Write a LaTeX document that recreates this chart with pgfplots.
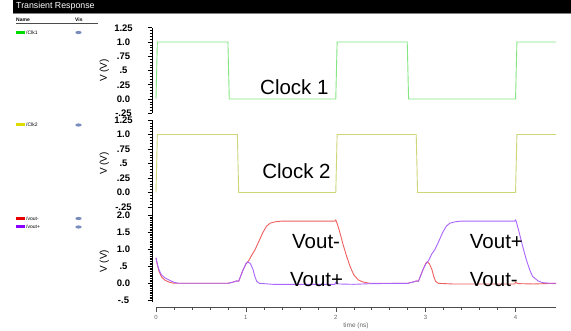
\documentclass[border=0pt]{standalone}
\usepackage{pgfplots}
\pgfplotsset{compat=1.18}
\usepackage{fontspec}
\setmainfont{Liberation Sans}
\definecolor{clkA}{RGB}{130,230,130}
\definecolor{clkB}{RGB}{205,215,120}
\definecolor{vm}{RGB}{240,95,95}
\definecolor{vp}{RGB}{170,100,255}
\definecolor{sqA}{RGB}{0,220,0}
\definecolor{sqB}{RGB}{220,220,0}
\definecolor{sqM}{RGB}{230,0,0}
\definecolor{sqP}{RGB}{140,0,255}
\definecolor{eye}{RGB}{120,140,190}
\pgfplotsset{
  panel/.style={
    scale only axis, width=404pt,
    xmin=-0.0445, xmax=4.45,
    axis y line=left, axis x line=none,
    y axis line style={-, black, line width=0.6pt},
    tick align=outside,
    major tick length=4.5pt, minor tick length=2.5pt,
    ytick style={black, line width=0.5pt},
    yticklabel style={font=\fontsize{9.5}{10}\selectfont\bfseries, anchor=center, xshift=-24pt},
    ylabel={V (V)},
    ylabel style={at={(axis description cs:-0.118,0.5)}, anchor=center, font=\fontsize{10}{11}\selectfont},
    every axis plot/.append style={line width=0.9pt},
  }
}
\newcommand{\legitem}[3]{%
  \fill[#1] (16pt,-#2pt-1.5pt) rectangle (25pt,-#2pt+1.5pt);
  \node[anchor=west, inner sep=0, font=\fontsize{5}{6}\selectfont] at (26pt,-#2pt) {#3};
  \fill[eye] (78.5pt,-#2pt) ellipse (3.2pt and 1.6pt);
}
\begin{document}
\begin{tikzpicture}
\useasboundingbox (0pt,0pt) rectangle (571pt,-331pt);
\fill[white] (0pt,0pt) rectangle (571pt,-331pt);
\fill[black] (13pt,0pt) rectangle (571pt,-13pt);
\draw[gray, line width=0.8pt] (13pt,-13.6pt) -- (571pt,-13.6pt);
\node[anchor=west, text=white, inner sep=0, font=\fontsize{8.8}{9}\selectfont] at (16pt,-6.5pt) {Transient Response};
\node[anchor=west, inner sep=0, font=\fontsize{5}{6}\selectfont\bfseries] at (16pt,-20pt) {Name};
\node[anchor=west, inner sep=0, font=\fontsize{5}{6}\selectfont\bfseries] at (75pt,-20pt) {Vis};
\draw[black!70, line width=0.6pt] (16pt,-23.5pt) -- (98pt,-23.5pt);
\legitem{sqA}{32.5}{/Clk1}
\legitem{sqB}{125}{/Clk2}
\legitem{sqM}{218.5}{/vout-}
\legitem{sqP}{227}{/vout+}

% ---------- Clock 1 ----------
\begin{axis}[panel, at={(152pt,-113.25pt)}, anchor=south west, height=85.5pt,
  ymin=-0.25, ymax=1.25,
  ytick={-0.25,0,0.25,0.5,0.75,1,1.25},
  yticklabels={-.25,0.0,.25,.5,.75,1.0,1.25},
  minor y tick num=4]
\addplot[clkA] coordinates {(0,0)(0.015,1)(0.80,1)(0.815,0)(2.0,0)(2.015,1)(2.795,1)(2.81,0)(4.0,0)(4.015,1)(4.45,1)};
\node[anchor=west, inner sep=0, font=\fontsize{20.5}{22}\selectfont] at (axis cs:1.157,0.2) {Clock 1};
\end{axis}

% ---------- Clock 2 ----------
\begin{axis}[panel, at={(152pt,-207pt)}, anchor=south west, height=87pt,
  ymin=-0.25, ymax=1.25,
  ytick={-0.25,0,0.25,0.5,0.75,1,1.25},
  yticklabels={-.25,0.0,.25,.5,.75,1.0,1.25},
  minor y tick num=4]
\addplot[clkB] coordinates {(0,0)(0.015,1)(0.905,1)(0.92,0)(2.0,0)(2.015,1)(2.895,1)(2.91,0)(4.0,0)(4.015,1)(4.45,1)};
\node[anchor=west, inner sep=0, font=\fontsize{20.5}{22}\selectfont] at (axis cs:1.18,0.37) {Clock 2};
\end{axis}

% ---------- Vout ----------
\begin{axis}[panel, at={(152pt,-302pt)}, anchor=south west, height=95.2pt,
  ymin=-0.55, ymax=2.25,
  ytick={-0.5,0,0.5,1,1.5,2},
  yticklabels={-.5,0.0,.5,1.0,1.5,2.0},
  minor y tick num=9,
  ylabel style={at={(axis description cs:-0.118,0.43)}}]
\addplot[vm] coordinates {
(0,0.75)(0.01,0.6)(0.03,0.38)(0.06,0.19)(0.1,0.09)(0.15,0.03)(0.2,0.0)(0.8,0.0)
(0.85,0.03)(0.9,0.07)(0.92,0.06)(0.94,0.2)(0.97,0.4)(1.0,0.56)(1.03,0.66)(1.07,0.85)
(1.1,0.98)(1.135,1.18)(1.19,1.5)(1.23,1.68)(1.27,1.77)(1.33,1.81)(1.4,1.83)(1.99,1.83)
(2.0,1.86)(2.01,1.8)(2.04,1.55)(2.08,1.15)(2.12,0.8)(2.16,0.49)(2.2,0.25)(2.25,0.1)
(2.3,0.04)(2.38,0.0)(2.8,0.0)(2.85,0.03)(2.9,0.07)(2.92,0.06)(2.94,0.2)(2.97,0.4)
(3.0,0.58)(3.015,0.63)(3.04,0.58)(3.07,0.4)(3.09,0.2)(3.11,0.06)(3.14,0.0)(3.3,-0.02)
(3.99,-0.02)(4.0,0.03)(4.03,-0.01)(4.2,-0.02)(4.45,0.0)};
\addplot[vp] coordinates {
(0,0.75)(0.01,0.62)(0.03,0.42)(0.06,0.25)(0.1,0.16)(0.15,0.09)(0.2,0.03)(0.25,0.0)(0.8,0.0)
(0.85,0.03)(0.9,0.07)(0.92,0.06)(0.94,0.2)(0.97,0.4)(1.0,0.58)(1.02,0.63)(1.05,0.58)
(1.08,0.4)(1.1,0.2)(1.12,0.06)(1.15,0.0)(1.3,-0.03)(1.99,-0.03)(2.0,0.03)(2.03,-0.02)
(2.2,-0.03)(2.4,-0.01)(2.8,0.0)(2.85,0.03)(2.9,0.07)(2.92,0.06)(2.94,0.2)(2.97,0.4)
(3.0,0.56)(3.03,0.66)(3.07,0.87)(3.1,0.98)(3.14,1.2)(3.19,1.5)(3.23,1.68)(3.27,1.77)
(3.33,1.81)(3.4,1.83)(3.99,1.83)(4.0,1.86)(4.01,1.8)(4.04,1.5)(4.08,1.08)(4.12,0.69)
(4.16,0.38)(4.19,0.2)(4.25,0.07)(4.3,0.02)(4.38,0.0)(4.45,0.0)};
\node[anchor=west, inner sep=0, font=\fontsize{20.5}{22}\selectfont] at (axis cs:1.513,1.24) {Vout-};
\node[anchor=west, inner sep=0, font=\fontsize{20.5}{22}\selectfont] at (axis cs:1.49,0.11) {Vout+};
\node[anchor=west, inner sep=0, font=\fontsize{20.5}{22}\selectfont] at (axis cs:3.49,1.24) {Vout+};
\node[anchor=west, inner sep=0, font=\fontsize{20.5}{22}\selectfont] at (axis cs:3.49,0.11) {Vout-};
\end{axis}

% ---------- time axis ----------
\begin{axis}[scale only axis, at={(156pt,-307pt)}, anchor=south west, width=400pt, height=10pt,
  xmin=0, xmax=4.45, ymin=0, ymax=1,
  axis x line=bottom, axis y line=none,
  x axis line style={-, black!70, line width=0.6pt},
  tick align=outside, major tick length=5pt, minor tick length=3pt,
  xtick style={black!70, line width=0.5pt},
  xtick={0,1,2,3,4}, xticklabels={0,1,2,3,4}, minor x tick num=4,
  xticklabel style={font=\fontsize{6}{7}\selectfont, text=black!60},
  xlabel={time (ns)},
  xlabel style={font=\fontsize{6.5}{7}\selectfont, text=black!60, yshift=4pt}]
\end{axis}
\end{tikzpicture}
\end{document}
